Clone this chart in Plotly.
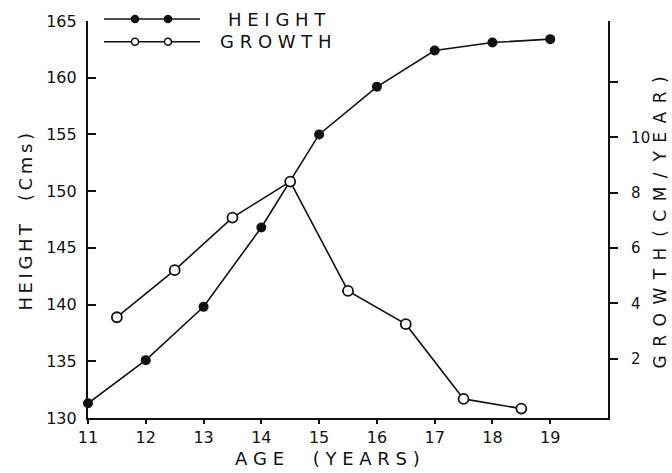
import plotly.graph_objects as go

# Data
age = [11, 12, 13, 14, 15, 16, 17, 18, 19]
height_cm = [131.3, 135.1, 139.8, 146.8, 155.0, 159.2, 162.4, 163.1, 163.4]
growth_age = [11.5, 12.5, 13.5, 14.5, 15.5, 16.5, 17.5, 18.5]
growth_cm_per_year = [3.5, 5.2, 7.1, 8.4, 4.45, 3.25, 0.55, 0.2]

x_ticks = [11, 12, 13, 14, 15, 16, 17, 18, 19]
left_ticks = [130, 135, 140, 145, 150, 155, 160, 165]
right_ticks = [2, 4, 6, 8, 10, 12]
right_labels = ["2", "4", "6", "8", "10", ""]

FONT = "DejaVu Sans"
INK = "#111111"
SP = "\u00a0"      # regular-width spacing
THIN = "\u2009"
EN = "\u2002"

def spaced(word, sep):
    return sep.join(list(word))

fig = go.Figure()
fig.add_trace(go.Scatter(
    x=age, y=height_cm, mode="lines+markers", name="HEIGHT",
    line=dict(color=INK, width=1.6),
    marker=dict(symbol="circle", size=10, color=INK),
    yaxis="y", cliponaxis=False,
))
fig.add_trace(go.Scatter(
    x=growth_age, y=growth_cm_per_year, mode="lines+markers", name="GROWTH",
    line=dict(color=INK, width=1.6),
    marker=dict(symbol="circle", size=10, color="white", line=dict(color=INK, width=1.8)),
    yaxis="y2", cliponaxis=False,
))

fig.update_layout(
    width=672, height=473,
    margin=dict(l=88, r=64, t=18, b=55),
    paper_bgcolor="white", plot_bgcolor="white",
    showlegend=False,
    font=dict(family=FONT, color=INK, size=16),
    xaxis=dict(
        range=[11, 20], tickvals=x_ticks, ticktext=[str(v) for v in x_ticks],
        showgrid=False, zeroline=False, showline=True, linecolor=INK, linewidth=2.2,
        ticks="outside", ticklen=4, tickwidth=1.8, tickcolor=INK,
        tickfont=dict(size=16, family=FONT, color=INK),
    ),
    yaxis=dict(
        range=[130, 165], tickvals=left_ticks, ticktext=[str(v) for v in left_ticks],
        showgrid=False, zeroline=False, showline=True, linecolor=INK, linewidth=2.2,
        ticks="inside", ticklen=8, tickwidth=1.8, tickcolor=INK,
        tickfont=dict(size=16, family=FONT, color=INK), ticklabelstandoff=6,
    ),
    yaxis2=dict(
        range=[-0.14, 14.2], overlaying="y", side="right", anchor="x",
        tickvals=right_ticks, ticktext=right_labels,
        showgrid=False, zeroline=False, showline=True, linecolor=INK, linewidth=2.2,
        ticks="outside", ticklen=8, tickwidth=1.8, tickcolor=INK,
        tickfont=dict(size=15, family=FONT, color=INK), ticklabelstandoff=10,
    ),
)

# Axis titles
fig.add_annotation(text=spaced("AGE", SP) + SP * 5 + spaced("(YEARS)", SP),
                   xref="paper", yref="paper", x=0.46, y=-0.1025,
                   showarrow=False, xanchor="center", yanchor="middle",
                   font=dict(size=18, family=FONT, color=INK))
fig.add_annotation(text=spaced("HEIGHT", THIN) + SP * 4 + spaced("(Cms)", THIN),
                   xref="paper", yref="paper", x=-0.121, y=0.4925,
                   textangle=-90, showarrow=False, xanchor="center", yanchor="middle",
                   font=dict(size=18, family=FONT, color=INK))
fig.add_annotation(text=spaced("GROWTH", EN) + SP * 2 + spaced("(CM/", EN) + SP * 2 + spaced("YEAR)", EN),
                   xref="paper", yref="paper", x=1.1, y=0.4925,
                   textangle=-90, showarrow=False, xanchor="center", yanchor="middle",
                   font=dict(size=17, family=FONT, color=INK))

# Hand-drawn style legend (top-left)
legend_items = [("HEIGHT", 16, True, 226), ("GROWTH", 39, False, 218)]
for label, ypx, filled, tx in legend_items:
    yp = 1 - (ypx - 18) / 400.0
    x0 = (104 - 88) / 520.0
    x1 = (200 - 88) / 520.0
    fig.add_shape(type="line", xref="paper", yref="paper", x0=x0, x1=x1, y0=yp, y1=yp,
                  line=dict(color=INK, width=1.5))
    for mx in (135, 168):
        xp = (mx - 88) / 520.0
        r = 3.5
        fig.add_shape(type="circle", xref="paper", yref="paper",
                      xsizemode="pixel", ysizemode="pixel", xanchor=xp, yanchor=yp,
                      x0=-r, x1=r, y0=-r, y1=r,
                      fillcolor=INK if filled else "white",
                      line=dict(color=INK, width=1.5))
    fig.add_annotation(text=spaced(label, SP), xref="paper", yref="paper",
                       x=(tx - 88) / 520.0, y=yp, xanchor="left", yanchor="middle",
                       showarrow=False, font=dict(size=18, family=FONT, color=INK))

# Remove the browser's default 8px body margin so the figure fills the window exactly.
fig.write_html("out.html",
               config={"displayModeBar": False},
               post_script="document.body.style.margin='0';document.body.style.overflow='hidden';")
